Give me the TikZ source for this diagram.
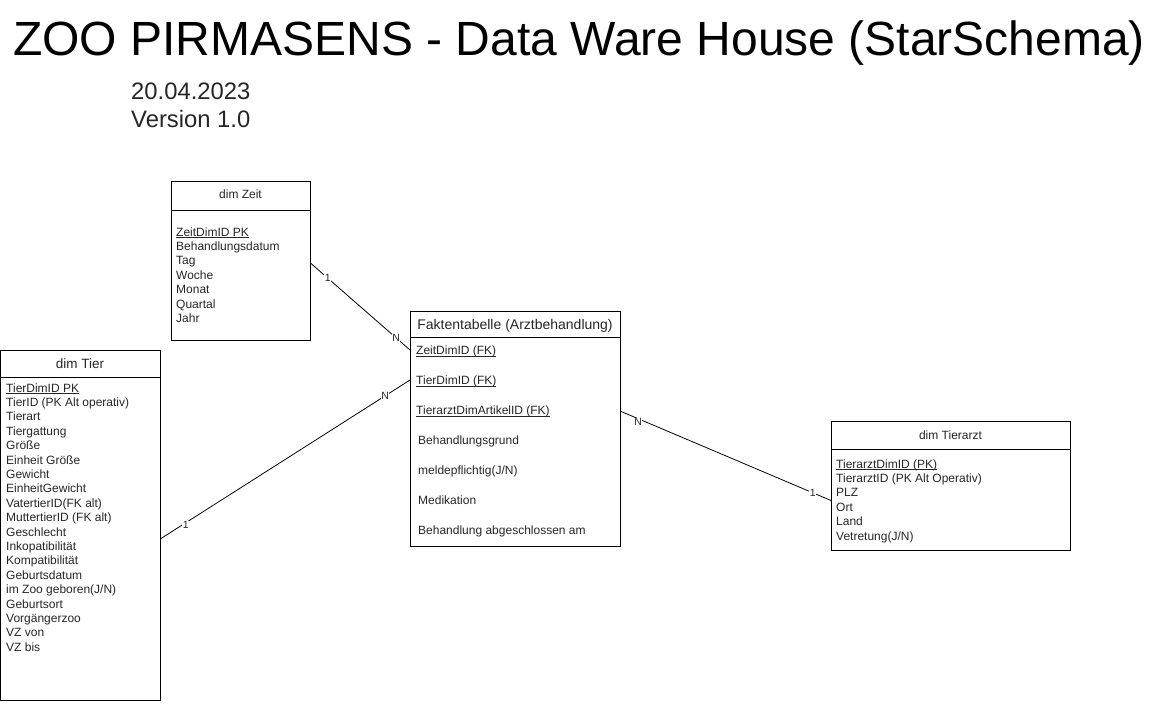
\documentclass[tikz,border=0pt]{standalone}
\usepackage{fontspec}
\setmainfont{Liberation Sans}
\newcommand{\myul}[1]{\setbox0\hbox{#1}\rlap{\rule[-2pt]{\wd0}{0.7pt}}\box0}
\newcommand{\fs}[1]{\fontsize{#1}{#1}\selectfont}
\begin{document}
\begin{tikzpicture}[x=1pt,y=-1pt,
  box/.style={draw, line width=1pt, inner sep=0pt, anchor=north west},
  hdr/.style={draw, line width=1pt},
  attr/.style={anchor=base west, inner sep=0pt, font=\fs{12}, text=black!85},
  ttl/.style={anchor=base, inner sep=0pt, font=\fs{12}, text=black!85},
  conn/.style={draw, line width=0.8pt},
  card/.style={font=\fs{10.5}, inner sep=0.5pt, fill=white, text=black!85}]
\useasboundingbox (0,0) rectangle (1161,704);

% title
\node[anchor=base west, inner sep=0pt, font=\fs{48}] (title) at (13,55) {ZOO PIRMASENS - Data Ware House (StarSchema)};
\node[anchor=base west, inner sep=0pt, font=\fs{23.8}, text=black!85] (date) at (131,99) {20.04.2023};
\node[anchor=base west, inner sep=0pt, font=\fs{23.8}, text=black!85] (ver) at (131,127) {Version 1.0};

% dim Zeit
\node[box, minimum width=139pt, minimum height=159pt] (zeit) at (171,181) {};
\draw[hdr] (171,210) -- (310,210);
\node[ttl] (zeitT) at (240.5,198) {dim Zeit};
\foreach \t [count=\i from 0] in {{\myul{ZeitDimID PK}},Behandlungsdatum,Tag,Woche,Monat,Quartal,Jahr}
  \node[attr] (zeit\i) at (176,236+14.4*\i) {\t};

% Faktentabelle
\node[box, minimum width=210pt, minimum height=235pt] (fakt) at (410,311) {};
\draw[hdr] (410,337) -- (620,337);
\node[ttl, font=\fs{14}] (faktT) at (515,329) {Faktentabelle (Arztbehandlung)};
\node[attr] (f0) at (416,354.5) {\myul{ZeitDimID (FK)}};
\node[attr] (f1) at (416,384.5) {\myul{TierDimID (FK)}};
\node[attr] (f2) at (416,414.5) {\myul{TierarztDimArtikelID (FK)}};
\node[attr] (f3) at (418,444.5) {Behandlungsgrund};
\node[attr] (f4) at (418,474.5) {meldepflichtig(J/N)};
\node[attr] (f5) at (418,504.5) {Medikation};
\node[attr] (f6) at (418,534.5) {Behandlung abgeschlossen am};
\coordinate (fz) at (410,350);
\coordinate (ft) at (410,380);
\coordinate (fa) at (620,411);

% dim Tier
\node[box, minimum width=160pt, minimum height=350pt] (tier) at (0,350) {};
\draw[hdr] (0,377) -- (160,377);
\node[ttl, font=\fs{13.5}] (tierT) at (80,368) {dim Tier};
\foreach \t [count=\i from 0] in {{\myul{TierDimID PK}},TierID (PK Alt operativ),Tierart,Tiergattung,Größe,Einheit Größe,Gewicht,EinheitGewicht,VatertierID(FK alt),MuttertierID (FK alt),Geschlecht,Inkopatibilität,Kompatibilität,Geburtsdatum,im Zoo geboren(J/N),Geburtsort,Vorgängerzoo,VZ von,VZ bis}
  \node[attr] (tier\i) at (6,392+14.4*\i) {\t};

% dim Tierarzt
\node[box, minimum width=239pt, minimum height=129pt] (arzt) at (831,421) {};
\draw[hdr] (831,449) -- (1070,449);
\node[ttl] (arztT) at (950.5,439) {dim Tierarzt};
\foreach \t [count=\i from 0] in {{\myul{TierarztDimID (PK)}},TierarztID (PK Alt Operativ),PLZ,Ort,Land,Vetretung(J/N)}
  \node[attr] (arzt\i) at (836,468+14.4*\i) {\t};

% connectors
\draw[conn] ([yshift=-2.5pt]zeit.east) -- (fz)
  node[card, pos=0.17] {1} node[card, pos=0.86] {N};
\draw[conn] ([yshift=-13pt]tier.east) -- (ft)
  node[card, pos=0.1, yshift=-2pt] {1} node[card, pos=0.9] {N};
\draw[conn] (fa) -- ([yshift=-14.5pt]arzt.west)
  node[card, pos=0.086, yshift=-3pt] {N} node[card, pos=0.914] {1};
\end{tikzpicture}
\end{document}
